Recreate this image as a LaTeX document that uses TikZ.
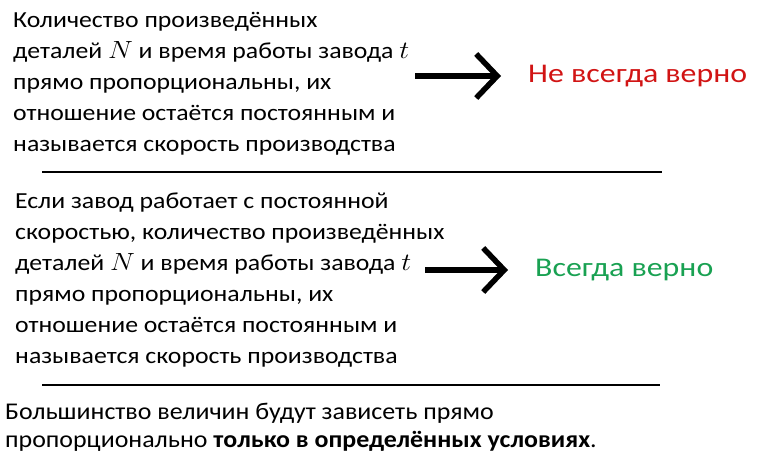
\documentclass[tikz,border=0pt]{standalone}
\usepackage{fontspec}
\setmainfont{Carlito}
\usetikzlibrary{arrows.meta}
\tikzset{txt/.style = {anchor = base west, align = left, inner sep = 0, xscale = 1.12, transform shape, font = \fontsize{23}{31}\selectfont}}
\tikzset{res/.style = {anchor = west, inner sep = 0, xscale = 1.18, transform shape, font = \fontsize{27}{30}\selectfont}}
\tikzset{bigarrow/.style = {line width = 5.5, -{Straight Barb[length = 21pt, width = 44pt]}}}
\definecolor{mred}{rgb}{0.82, 0.08, 0.08}
\definecolor{mgreen}{rgb}{0.1, 0.63, 0.32}

\begin{document}
\begin{tikzpicture}[x=1pt, y=-1pt]
  \useasboundingbox (0, 0) rectangle (772, 465);
  % first statement
  \node [txt] (stmtA) at (13, 152) {Количество произведённых\\деталей $N$ и время работы завода $t$\\прямо пропорциональны, их\\отношение остаётся постоянным и\\называется скорость производства};
  \node [res, mred] (resA) at (528, 76) {Не всегда верно};
  \coordinate (arrA) at (415, 76);
  \draw [bigarrow, shorten > = 27] (arrA) -- (resA.west);
  \draw [line width = 1.6] (42, 172) -- (662, 172);
  % second statement
  \node [txt] (stmtB) at (15, 363) {Если завод работает с постоянной\\скоростью, количество произведённых\\деталей $N$ и время работы завода $t$\\прямо пропорциональны, их\\отношение остаётся постоянным и\\называется скорость производства};
  \node [res, mgreen] (resB) at (535, 270) {Всегда верно};
  \coordinate (arrB) at (425, 270);
  \draw [bigarrow, shorten > = 27] (arrB) -- (resB.west);
  \draw [line width = 1.6] (42, 385) -- (660, 385);
  % conclusion
  \node [txt, xscale = 0.964, font = \fontsize{24}{28}\selectfont] (concl) at (5, 447) {Большинство величин будут зависеть прямо\\пропорционально \textbf{только в определённых условиях}.};
\end{tikzpicture}
\end{document}
